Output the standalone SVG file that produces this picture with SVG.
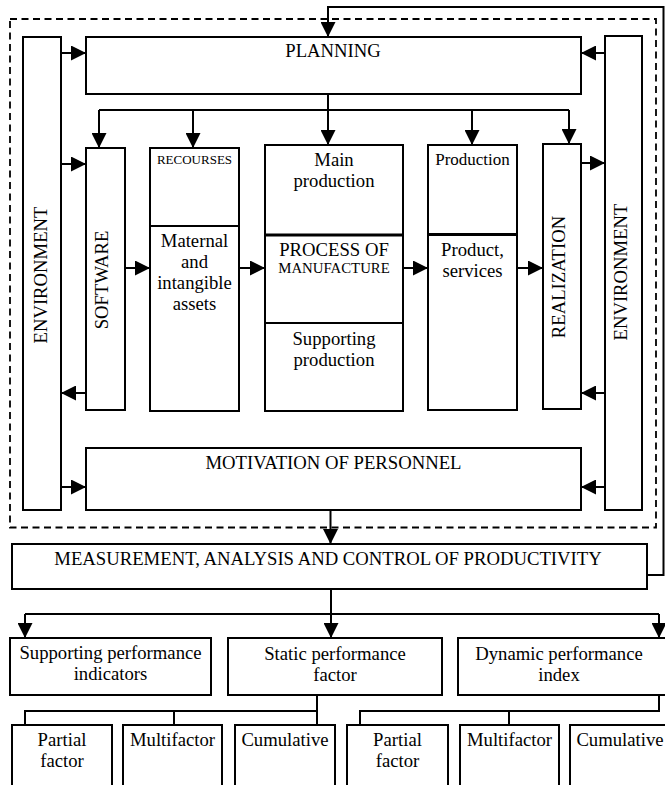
<svg xmlns="http://www.w3.org/2000/svg" width="665" height="785" viewBox="0 0 665 785">
<style>
.b{fill:#fff;stroke:#000;stroke-width:2}
.t{font-family:"Liberation Serif","Times New Roman",serif;font-size:18.7px;fill:#000;text-anchor:middle}
.s{font-size:13px}
.c line,.c path,.c polyline{stroke:#000;stroke-width:2;fill:none}
.dv{stroke:#000;stroke-width:2.8}
</style>
<defs>
<marker id="ah" markerUnits="userSpaceOnUse" markerWidth="15" markerHeight="15" refX="15" refY="7.5" orient="auto"><path d="M0,0 L15,7.5 L0,15 Z" fill="#000"/></marker>
</defs>
<rect width="665" height="785" fill="#fff"/>
<rect id="boundary" x="10" y="19" width="646" height="508.5" fill="none" stroke="#000" stroke-width="1.8" stroke-dasharray="7 4.5"/>

<g id="env-left"><rect class="b" x="23" y="37" width="38" height="473"/><text class="t" transform="translate(46.5,275) rotate(-90)">ENVIRONMENT</text></g>
<g id="env-right"><rect class="b" x="605" y="36" width="37" height="474"/><text class="t" transform="translate(626.5,272) rotate(-90)">ENVIRONMENT</text></g>
<g id="planning"><rect class="b" x="86" y="37" width="495" height="57"/><text class="t" x="333" y="57">PLANNING</text></g>
<g id="software"><rect class="b" x="86" y="148" width="39" height="262"/><text class="t" transform="translate(108,280) rotate(-90)">SOFTWARE</text></g>
<g id="resources"><rect class="b" x="150" y="148" width="89" height="263"/><line class="dv" x1="150" y1="226" x2="239" y2="226" style="stroke-width:2"/><text class="t s" x="194.5" y="164">RECOURSES</text><text class="t" x="194.5" y="247">Maternal</text><text class="t" x="194.5" y="268">and</text><text class="t" x="194.5" y="289">intangible</text><text class="t" x="194.5" y="310">assets</text></g>
<g id="process"><rect class="b" x="265" y="145" width="138" height="266"/><line class="dv" x1="265" y1="235" x2="403" y2="235"/><line class="dv" x1="265" y1="323" x2="403" y2="323" style="stroke-width:2"/><text class="t" x="334" y="166">Main</text><text class="t" x="334" y="187">production</text><text class="t" x="334" y="256">PROCESS OF</text><text class="t" x="334" y="273" style="font-size:14.8px">MANUFACTURE</text><text class="t" x="334" y="345">Supporting</text><text class="t" x="334" y="366">production</text></g>
<g id="production"><rect class="b" x="428" y="145" width="89" height="265"/><line class="dv" x1="428" y1="234.5" x2="517" y2="234.5"/><text class="t" x="472.5" y="165" style="font-size:17px">Production</text><text class="t" x="472.5" y="256">Product,</text><text class="t" x="472.5" y="277">services</text></g>
<g id="realization"><rect class="b" x="543" y="144" width="38" height="265"/><text class="t" transform="translate(565,277) rotate(-90)">REALIZATION</text></g>
<g id="motivation"><rect class="b" x="86" y="448" width="495" height="62"/><text class="t" x="333.5" y="469">MOTIVATION OF PERSONNEL</text></g>
<g id="measurement"><rect class="b" x="12" y="544" width="635" height="45"/><text class="t" x="328" y="565">MEASUREMENT, ANALYSIS AND CONTROL OF PRODUCTIVITY</text></g>
<g id="supporting"><rect class="b" x="10" y="638" width="201" height="57"/><text class="t" x="110.5" y="659">Supporting performance</text><text class="t" x="110.5" y="680">indicators</text></g>
<g id="static"><rect class="b" x="228" y="638" width="214" height="57"/><text class="t" x="335" y="660">Static performance</text><text class="t" x="335" y="681">factor</text></g>
<g id="dynamic"><rect class="b" x="458" y="638" width="214" height="57"/><text class="t" x="559" y="660">Dynamic performance</text><text class="t" x="559" y="681">index</text></g>
<g id="partial1"><rect class="b" x="12" y="725" width="100" height="70"/><text class="t" x="62" y="746">Partial</text><text class="t" x="62" y="767">factor</text></g>
<g id="multi1"><rect class="b" x="123" y="725" width="99" height="70"/><text class="t" x="172.5" y="746">Multifactor</text></g>
<g id="cum1"><rect class="b" x="235" y="725" width="100" height="70"/><text class="t" x="285" y="746">Cumulative</text></g>
<g id="partial2"><rect class="b" x="347" y="725" width="101" height="70"/><text class="t" x="397.5" y="746">Partial</text><text class="t" x="397.5" y="767">factor</text></g>
<g id="multi2"><rect class="b" x="460" y="725" width="99" height="70"/><text class="t" x="509.5" y="746">Multifactor</text></g>
<g id="cum2"><rect class="b" x="570" y="725" width="100" height="70"/><text class="t" x="620" y="746">Cumulative</text></g>

<g id="connectors" class="c">
<polyline points="647,575 663.5,575 663.5,7 328,7 328,37" marker-end="url(#ah)"/>
<line x1="61" y1="53" x2="86" y2="53" marker-end="url(#ah)"/>
<line x1="605" y1="53" x2="581" y2="53" marker-end="url(#ah)"/>
<line x1="328" y1="94" x2="328" y2="145" marker-end="url(#ah)"/>
<line x1="99" y1="110" x2="569" y2="110"/>
<line x1="99" y1="110" x2="99" y2="148" marker-end="url(#ah)"/>
<line x1="193" y1="110" x2="193" y2="148" marker-end="url(#ah)"/>
<line x1="472" y1="110" x2="472" y2="145" marker-end="url(#ah)"/>
<line x1="569" y1="110" x2="569" y2="144" marker-end="url(#ah)"/>
<line x1="61" y1="164" x2="86" y2="164" marker-end="url(#ah)"/>
<line x1="86" y1="393" x2="61" y2="393" marker-end="url(#ah)"/>
<line x1="125" y1="268" x2="150" y2="268" marker-end="url(#ah)"/>
<line x1="239" y1="268" x2="265" y2="268" marker-end="url(#ah)"/>
<line x1="403" y1="268" x2="428" y2="268" marker-end="url(#ah)"/>
<line x1="517" y1="268" x2="543" y2="268" marker-end="url(#ah)"/>
<line x1="581" y1="163" x2="605" y2="163" marker-end="url(#ah)"/>
<line x1="605" y1="393" x2="581" y2="393" marker-end="url(#ah)"/>
<line x1="61" y1="487" x2="86" y2="487" marker-end="url(#ah)"/>
<line x1="605" y1="487" x2="581" y2="487" marker-end="url(#ah)"/>
<line x1="330.5" y1="510" x2="330.5" y2="544" marker-end="url(#ah)"/>
<line x1="331" y1="589" x2="331" y2="614"/>
<line x1="25" y1="614" x2="659" y2="614"/>
<line x1="25" y1="614" x2="25" y2="638" marker-end="url(#ah)"/>
<line x1="331" y1="614" x2="331" y2="638" marker-end="url(#ah)"/>
<line x1="659" y1="614" x2="659" y2="638" marker-end="url(#ah)"/>
<polyline points="317,695 317,724"/>
<polyline points="25,725 25,711 317,711"/>
<line x1="174" y1="711" x2="174" y2="725"/>
<polyline points="659,695 659,711 360,711 360,725"/>
<line x1="509" y1="711" x2="509" y2="725"/>
</g>
</svg>
